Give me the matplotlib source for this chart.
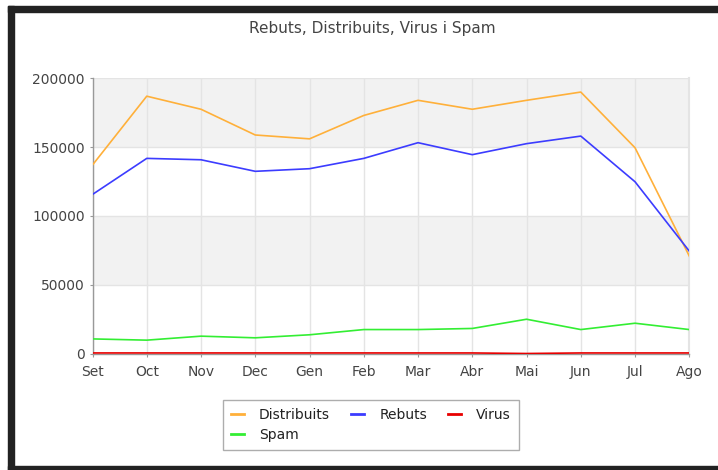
import matplotlib
matplotlib.use("Agg")
import matplotlib.pyplot as plt
from matplotlib.patches import Rectangle

months = ["Set", "Oct", "Nov", "Dec", "Gen", "Feb", "Mar", "Abr", "Mai", "Jun", "Jul", "Ago"]
distribuits = [137000, 187000, 177500, 158800, 156000, 173000, 184000, 177500, 184000, 190000, 149500, 70800]
rebuts = [115600, 141800, 140800, 132400, 134300, 141800, 153200, 144500, 152500, 158000, 124800, 74400]
virus = [400, 400, 400, 400, 400, 400, 400, 400, 0, 400, 400, 400]
spam = [10600, 9700, 12600, 11400, 13600, 17400, 17400, 18200, 24900, 17400, 22000, 17400]
yticks = [0, 50000, 100000, 150000, 200000]

W, H = 718, 470
fig = plt.figure(figsize=(W / 100, H / 100), dpi=100)
fig.patch.set_facecolor("white")

# dark frame
dark = "#222222"
fig.add_artist(Rectangle((8 / W, 0), 6 / W, (H - 6) / H, transform=fig.transFigure, color=dark, zorder=0))
fig.add_artist(Rectangle((8 / W, (H - 12) / H), (W - 8) / W, 6 / H, transform=fig.transFigure, color=dark, zorder=0))
fig.add_artist(Rectangle((8 / W, 0), (W - 8) / W, 4 / H, transform=fig.transFigure, color=dark, zorder=0))

ax = fig.add_axes([92.5 / W, (H - 353.5) / H, (689.3 - 92.5) / W, (353.5 - 78.3) / H])
x = list(range(len(months)))

ax.set_xlim(0, len(months) - 1)
ax.set_ylim(0, 200000)

# alternating bands
for lo, hi in [(50000, 100000), (150000, 200000)]:
    ax.axhspan(lo, hi, color="#f2f2f2", zorder=0, lw=0)

ax.grid(True, color="#e4e4e4", linewidth=1, zorder=1)
ax.set_axisbelow(True)
ax.axvline(len(months) - 1, color="#e4e4e4", lw=1.5, zorder=1, clip_on=False)

l_d, = ax.plot(x, distribuits, color="#ffb03a", lw=1.2, label="Distribuits", zorder=3)
l_r, = ax.plot(x, rebuts, color="#3c3cff", lw=1.2, label="Rebuts", zorder=3)
l_v, = ax.plot(x, virus, color="#e80000", lw=1.2, label="Virus", zorder=3)
l_s, = ax.plot(x, spam, color="#33ee33", lw=1.2, label="Spam", zorder=3)

ax.set_xticks(x)
ax.set_xticklabels(months)
ax.set_yticks(yticks)
ax.set_yticklabels([str(v) for v in yticks])
ax.tick_params(axis="both", colors="#999999", labelcolor="#444444", labelsize=10, length=2)
ax.tick_params(axis="x", pad=6)

for s in ["top", "right"]:
    ax.spines[s].set_visible(False)
for s in ["left", "bottom"]:
    ax.spines[s].set_color("#999999")
    ax.spines[s].set_linewidth(1)

fig.text(372 / W, (H - 29) / H, "Rebuts, Distribuits, Virus i Spam", ha="center", va="center",
         fontsize=11, color="#444444")

handles = [l_d, l_s, l_r, l_v]
leg = fig.legend(handles, [h.get_label() for h in handles], loc="center",
                 bbox_to_anchor=(371 / W, (H - 425) / H), ncol=3, frameon=True,
                 fancybox=False, edgecolor="#999999", fontsize=10, handlelength=0.9,
                 columnspacing=1.55, handletextpad=1.1, borderpad=0.55, labelspacing=0.45,
                 borderaxespad=0)
leg.get_frame().set_linewidth(1)
for line in leg.get_lines():
    line.set_linewidth(2)
for t in leg.get_texts():
    t.set_color("#222222")

fig.savefig("out.png", dpi=100, facecolor="white")
